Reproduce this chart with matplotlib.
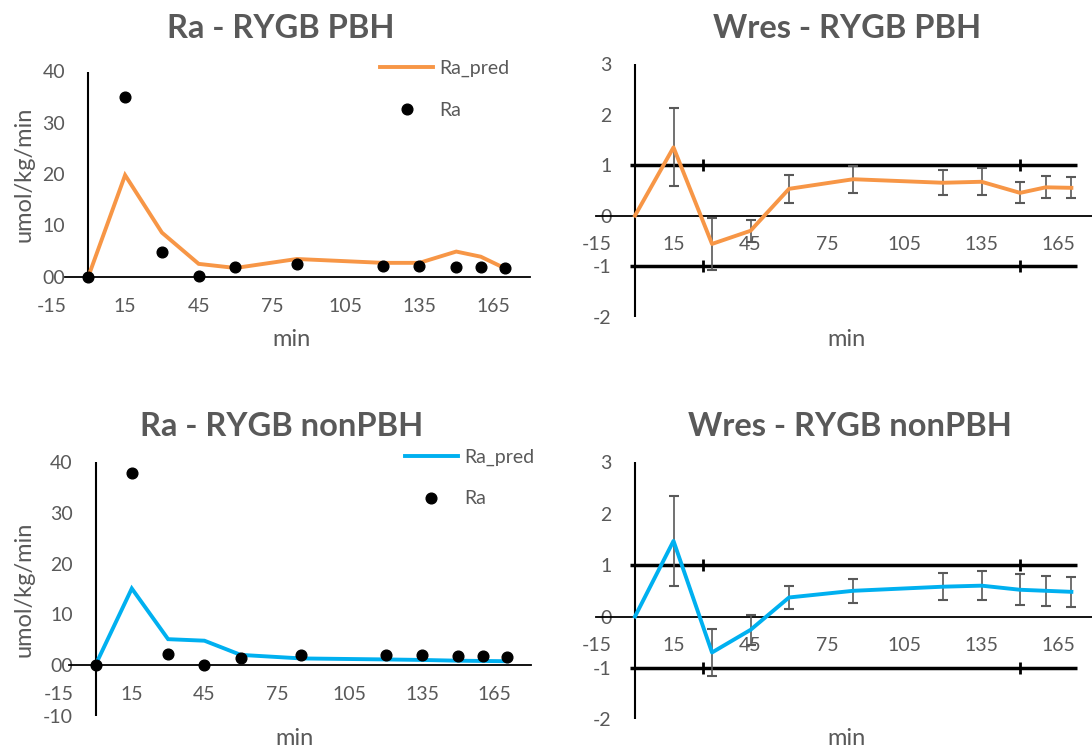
import numpy as np
import matplotlib
matplotlib.use('Agg')
import matplotlib.pyplot as plt

plt.rcParams['font.family'] = ['Lato', 'DejaVu Sans']

# ---------------- data ----------------
time_min = [0, 15, 30, 45, 60, 85, 120, 135, 150, 160, 170]

ra_pred_pbh = [0, 19.8, 8.6, 2.5, 1.7, 3.45, 2.7, 2.7, 4.9, 3.9, 1.6]
ra_obs_pbh = [0, 35.1, 4.9, 0.1, 1.8, 2.4, 2.1, 2.1, 1.8, 1.8, 1.75]
ra_pred_non = [0, 15.1, 5.1, 4.8, 2.0, 1.3, 1.1, 1.0, 0.85, 0.8, 0.75]
ra_obs_non = [0, 37.9, 2.2, 0.0, 1.45, 1.9, 2.0, 2.0, 1.8, 1.7, 1.6]

wres_pbh = [0, 1.35, -0.56, -0.30, 0.53, 0.72, 0.65, 0.67, 0.45, 0.56, 0.55]
wres_pbh_sd = [0, 0.77, 0.51, 0.22, 0.28, 0.27, 0.25, 0.27, 0.21, 0.22, 0.21]
wres_non = [0, 1.47, -0.70, -0.26, 0.37, 0.50, 0.58, 0.60, 0.52, 0.50, 0.48]
wres_non_sd = [0, 0.87, 0.46, 0.29, 0.23, 0.23, 0.26, 0.28, 0.30, 0.29, 0.29]

band_levels = [1, -1]
band_x = [-2, 172]
band_marks_x = [26.5, 150]

x_ticks = [-15, 15, 45, 75, 105, 135, 165]
ra_yticks_top = [0, 10, 20, 30, 40]
ra_ylabels_top = ['00', '10', '20', '30', '40']
ra_yticks_bot = [-10, 0, 10, 20, 30, 40]
ra_ylabels_bot = ['-10', '00', '10', '20', '30', '40']
wres_yticks = [-2, -1, 0, 1, 2, 3]
wres_ylabels = ['-2', '-1', '0', '1', '2', '3']

titles = ['Ra - RYGB PBH', 'Wres - RYGB PBH', 'Ra - RYGB nonPBH', 'Wres - RYGB nonPBH']
x_title = 'min'
y_title = 'umol/kg/min'
leg_labels = ['Ra_pred', 'Ra']

# ---------------- style ----------------
TXT = '#595959'
ORANGE = '#F79646'
BLUE = '#00B0F0'
W, H = 1092, 749

fig = plt.figure(figsize=(W / 100, H / 100), dpi=100)


def px_axes(xmin, xmax, x0_px, sx, ytop_val, ybot_val, ytop_px, ybot_px):
    left = x0_px + xmin * sx
    right = x0_px + xmax * sx
    ax = fig.add_axes([left / W, 1 - ybot_px / H, (right - left) / W, (ybot_px - ytop_px) / H])
    ax.set_xlim(xmin, xmax)
    ax.set_ylim(ybot_val, ytop_val)
    return ax


def style(ax, yticks, ylabels, ypad, xbounds=None):
    for s in ['top', 'right', 'left']:
        ax.spines[s].set_visible(False)
    ax.spines['bottom'].set_position(('data', 0))
    ax.spines['bottom'].set_color('black')
    ax.spines['bottom'].set_linewidth(1.3)
    if xbounds is not None:
        ax.spines['bottom'].set_bounds(*xbounds)
    ax.axvline(0, color='black', lw=1.5, zorder=2)
    ax.set_xticks(x_ticks)
    ax.set_xticklabels([str(v) for v in x_ticks])
    ax.set_yticks(yticks)
    ax.set_yticklabels(ylabels)
    ax.tick_params(axis='both', length=0, labelsize=14, labelcolor=TXT)
    ax.tick_params(axis='x', pad=15)
    ax.tick_params(axis='y', pad=ypad)
    ax.patch.set_visible(False)


def ra_panel(ax, pred, obs, color, leg_xy):
    ln, = ax.plot(time_min, pred, color=color, lw=2.8, zorder=3, clip_on=False,
                  solid_joinstyle='miter')
    dots, = ax.plot(time_min, obs, ls='none', marker='o', ms=7.7, color='black',
                    zorder=4, clip_on=False)
    ax.legend([ln, dots], leg_labels, loc='upper left',
              bbox_to_anchor=(leg_xy[0] / W, 1 - leg_xy[1] / H),
              bbox_transform=fig.transFigure, frameon=False, fontsize=14,
              labelcolor=TXT, handlelength=2.75, handletextpad=0.3,
              labelspacing=1.27, borderpad=0, borderaxespad=0)


def wres_panel(ax, vals, sd, color):
    for lvl in band_levels:
        ax.plot(band_x, [lvl, lvl], color='black', lw=2.5, solid_capstyle='butt',
                zorder=2, clip_on=False)
        ax.plot(band_marks_x, [lvl] * len(band_marks_x), ls='none', marker='|',
                ms=8.5, mew=2, color='black', zorder=2)
    ax.errorbar(time_min[1:], vals[1:], yerr=sd[1:], fmt='none', ecolor='#595959',
                elinewidth=1.2, capsize=3.6, capthick=1.5, zorder=3)
    ax.plot(time_min, vals, color=color, lw=2.8, zorder=4, clip_on=False)


# Top-left: Ra PBH
ax1 = px_axes(-15, 180, 88.3, 2.453, 40, 0, 71.5, 276.7)
style(ax1, ra_yticks_top, ra_ylabels_top, -9.8, xbounds=(-9.5, 180))
ra_panel(ax1, ra_pred_pbh, ra_obs_pbh, ORANGE, (380, 60))

# Top-right: Wres PBH
ax2 = px_axes(-15, 178, 635, 2.567, 3, -2, 64, 316.7)
style(ax2, wres_yticks, wres_ylabels, -10.8)
wres_panel(ax2, wres_pbh, wres_pbh_sd, ORANGE)

# Bottom-left: Ra nonPBH
ax3 = px_axes(-15, 180, 95.5, 2.42, 40, -10, 462.3, 715.7)
style(ax3, ra_yticks_bot, ra_ylabels_bot, -9.8, xbounds=(-11, 180))
ra_panel(ax3, ra_pred_non, ra_obs_non, BLUE, (404.6, 448.5))

# Bottom-right: Wres nonPBH
ax4 = px_axes(-15, 178, 635, 2.567, 3, -2, 462.3, 719.3)
style(ax4, wres_yticks, wres_ylabels, -10.8)
wres_panel(ax4, wres_non, wres_non_sd, BLUE)

# Titles
for t, (cx, base) in zip(titles, [(281, 38.3), (846.7, 38.3), (281.7, 436.5), (850, 436.5)]):
    fig.text(cx / W, 1 - base / H, t, ha='center', va='baseline', fontsize=23.5,
             fontweight='bold', color=TXT)

# Axis titles
for cx, base in [(291.7, 346.5), (846.3, 346.0), (294.4, 745), (846.3, 745)]:
    fig.text(cx / W, 1 - base / H, x_title, ha='center', va='baseline', fontsize=17, color=TXT)
for cy in [174, 589]:
    fig.text(24 / W, 1 - cy / H, y_title, ha='center', va='center', rotation=90,
             fontsize=17, color=TXT)

fig.savefig('out.png', dpi=100)
